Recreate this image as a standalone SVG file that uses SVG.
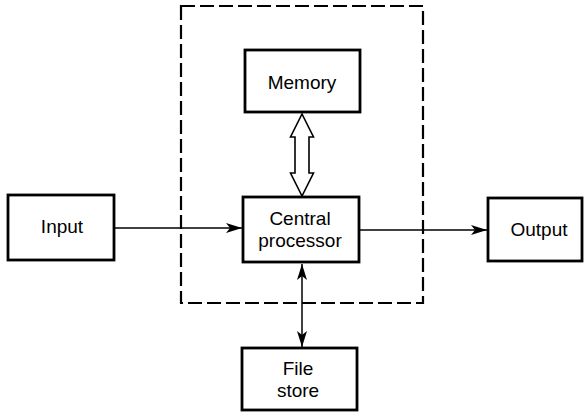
<svg xmlns="http://www.w3.org/2000/svg" width="584" height="412" viewBox="0 0 584 412">
<defs>
<style>
.box{fill:#fff;stroke:#000;stroke-width:2.8}
.lbl{font-family:"Liberation Sans",Arial,sans-serif;font-size:19px;fill:#000;text-anchor:middle}
.ln{stroke:#000;stroke-width:1.5;fill:none}
</style>
<marker id="ah" viewBox="0 0 16 10" refX="16" refY="5" markerWidth="16" markerHeight="10" markerUnits="userSpaceOnUse" orient="auto-start-reverse">
<path d="M0,0 L16,5 L0,10 L4,5 Z" fill="#000"/>
</marker>
</defs>
<rect x="181" y="6" width="242" height="297" fill="none" stroke="#000" stroke-width="2.2" stroke-dasharray="14,5"/>
<g id="connectors">
<path class="ln" d="M114,228 L242,228" marker-end="url(#ah)"/>
<path class="ln" d="M359,230 L487,230" marker-end="url(#ah)"/>
<path class="ln" d="M302,264 L302,347" marker-start="url(#ah)" marker-end="url(#ah)"/>
<path d="M302,114 L313.5,137 L309,137 L309,173 L313.5,173 L302,196 L290.5,173 L295,173 L295,137 L290.5,137 Z" fill="#fff" stroke="#000" stroke-width="1.6" stroke-linejoin="miter"/>
</g>
<g id="memory"><rect class="box" x="245" y="50" width="115" height="62"/><text class="lbl" x="302" y="89">Memory</text></g>
<g id="central-processor"><rect class="box" x="243" y="197" width="116" height="65"/><text class="lbl" x="300" y="225">Central</text><text class="lbl" x="300" y="247">processor</text></g>
<g id="input"><rect class="box" x="8" y="195" width="106" height="65"/><text class="lbl" x="62" y="233">Input</text></g>
<g id="output"><rect class="box" x="488" y="198" width="94" height="63"/><text class="lbl" x="539" y="236">Output</text></g>
<g id="file-store"><rect class="box" x="242" y="348" width="115" height="62"/><text class="lbl" x="298" y="375">File</text><text class="lbl" x="298" y="397">store</text></g>
</svg>
